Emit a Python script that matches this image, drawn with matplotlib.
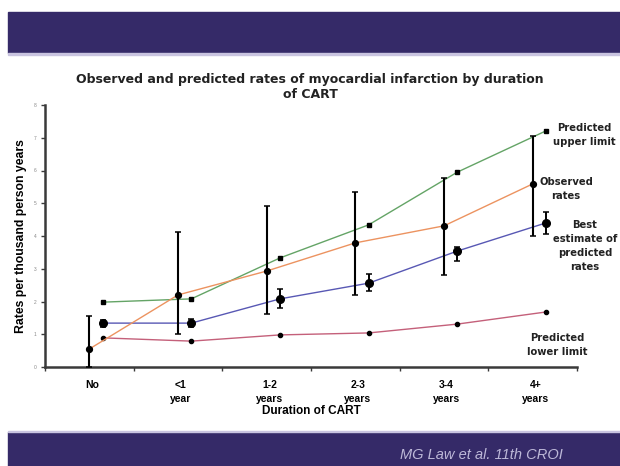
import matplotlib.pyplot as plt
from matplotlib.patches import Rectangle

plt.rcParams['font.family'] = ['Liberation Sans', 'DejaVu Sans']

# Observed and predicted rates of MI by duration of CART (per 1000 person years)
categories = ["No", "<1\nyear", "1-2\nyears", "2-3\nyears", "3-4\nyears", "4+\nyears"]

observed = [0.55, 2.20, 2.93, 3.79, 4.31, 5.59]
observed_hi = [1.56, 4.12, 4.91, 5.34, 5.77, 7.05]
observed_lo = [0.00, 1.01, 1.62, 2.20, 2.82, 4.00]

best = [1.34, 1.34, 2.08, 2.56, 3.54, 4.40]
best_hi = [1.45, 1.46, 2.38, 2.84, 3.66, 4.73]
best_lo = [1.23, 1.22, 1.80, 2.32, 3.24, 4.06]

upper = [1.98, 2.08, 3.33, 4.34, 5.95, 7.21]
lower = [0.89, 0.79, 0.98, 1.04, 1.31, 1.68]

band = "#352a68"

fig = plt.figure(figsize=(6.2, 4.66), dpi=100)
fig.patch.set_facecolor("white")

# slide bands
fig.patches.append(Rectangle((8 / 620, 1 - 53 / 466), 1, 41 / 466,
                             transform=fig.transFigure, color=band, zorder=0))
fig.patches.append(Rectangle((8 / 620, 1 - 54.5 / 466), 1, 1.5 / 466,
                             transform=fig.transFigure, color="#c9c4e0", zorder=0))
fig.patches.append(Rectangle((8 / 620, 0), 1, 34 / 466,
                             transform=fig.transFigure, color=band, zorder=0))
fig.patches.append(Rectangle((8 / 620, 34 / 466), 1, 1.5 / 466,
                             transform=fig.transFigure, color="#c9c4e0", zorder=0))

ax = fig.add_axes([45 / 620, 99 / 466, 532 / 620, 262 / 466])

x_obs = [i + 0.5 for i in range(len(categories))]
x_pred = [i + 0.65 for i in range(len(categories))]

ax.plot(x_pred, upper, color="#64a466", lw=1, marker="s", ms=3,
        mfc="black", mec="black", zorder=3)
ax.plot(x_pred, lower, color="#c4607a", lw=1, marker="o", ms=3,
        mfc="black", mec="black", zorder=3)
ax.plot(x_pred, best, color="#5858b4", lw=1, zorder=3)
ax.errorbar(x_pred, best,
            yerr=[[b - l for b, l in zip(best, best_lo)],
                  [h - b for b, h in zip(best, best_hi)]],
            fmt="o", color="black", ms=5.5, elinewidth=1.4, capsize=2,
            capthick=1.1, zorder=4)
ax.plot(x_obs, observed, color="#ec9360", lw=1, zorder=3)
ax.errorbar(x_obs, observed,
            yerr=[[o - l for o, l in zip(observed, observed_lo)],
                  [h - o for o, h in zip(observed, observed_hi)]],
            fmt="o", color="black", ms=4.2, elinewidth=1.5, capsize=2,
            capthick=1.1, zorder=4, clip_on=False)

ax.set_xlim(0, 6)
ax.set_ylim(0, 8)
for s in ["top", "right"]:
    ax.spines[s].set_visible(False)
for s in ["left", "bottom"]:
    ax.spines[s].set_color("#3a3a3a")
    ax.spines[s].set_linewidth(1.8)

ax.set_xticks(range(7))
ax.set_xticklabels([])
ax.tick_params(axis="x", which="major", length=3, width=1, color="#3a3a3a")
ax.set_xticks([i + 0.53 for i in range(len(categories))], minor=True)
ax.set_xticklabels(categories, minor=True, fontsize=7.5, fontweight="bold",
                   linespacing=1.5)
ax.tick_params(axis="x", which="minor", length=0, pad=9)

ax.set_yticks(range(9))
ax.set_yticklabels([str(v) for v in range(9)], fontsize=3.5, color="#888888")
ax.tick_params(axis="y", length=3, width=1, color="#3a3a3a", pad=3)

ax.set_xlabel("Duration of CART", fontsize=8.5, fontweight="bold", labelpad=1)
ax.set_ylabel("Rates per thousand person years", fontsize=8.8,
              fontweight="bold", labelpad=5)

fig.text(0.5, 1 - 87 / 466,
         "Observed and predicted rates of myocardial infarction by duration\nof CART",
         ha="center", va="center", fontsize=9, fontweight="bold",
         family="DejaVu Sans", color="#222222", linespacing=1.3)

note = dict(ha="center", va="center", fontsize=7.2, fontweight="bold",
            family="DejaVu Sans", color="#222222", linespacing=1.5)
fig.text(584 / 620, 1 - 135 / 466, "Predicted\nupper limit", **note)
fig.text(566 / 620, 1 - 189 / 466, "Observed\nrates", **note)
fig.text(585 / 620, 1 - 246 / 466, "Best\nestimate of\npredicted\nrates", **note)
fig.text(557 / 620, 1 - 345 / 466, "Predicted\nlower limit", **note)

fig.text(563 / 620, 1 - 455 / 466, "MG Law et al. 11th CROI", ha="right",
         va="center", fontsize=10.5, style="italic", color="#bdb8d8")

fig.savefig("out.png", dpi=100)
